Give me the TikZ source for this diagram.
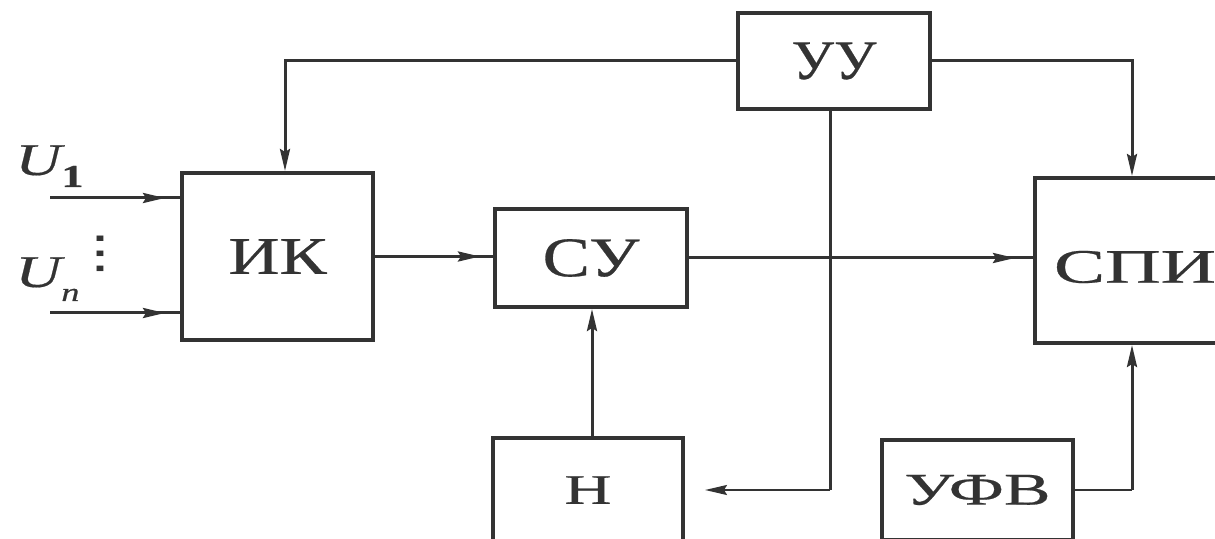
\documentclass[tikz,border=0pt]{standalone}
\usepackage{fontspec}
\setmainfont{Liberation Serif}
\newfontfamily\lblfont[FakeBold=0.4]{Liberation Serif}
\newfontfamily\dotfont{DejaVu Sans}
\usetikzlibrary{arrows.meta}
\definecolor{ink}{HTML}{333333}
\newcommand{\lab}[3]{\scalebox{#2}[1]{\lblfont\fontsize{#1}{#1}\selectfont #3}}
\begin{document}
\begin{tikzpicture}[x=0.5pt,y=-0.5pt,
  blk/.style={draw=ink,line width=2pt,inner sep=0pt,text=ink},
  conn/.style={draw=ink,line width=1.5pt},
  thinconn/.style={draw=ink,line width=1pt},
  arr/.style={-{Stealth[length=11pt,width=5pt,inset=1.5pt]}},
  txt/.style={text=ink,inner sep=0pt}]
\useasboundingbox (0,0) rectangle (1215,539);
\clip (0,0) rectangle (1215,539);
\fill[white] (0,0) rectangle (1215,539);

% blocks
\node[blk,minimum width=96pt,minimum height=48pt] (uu) at (834,61) {\lab{28}{1.07}{УУ}};
\node[blk,minimum width=95.5pt,minimum height=83.5pt] (ik) at (277.5,256.5) {\lab{26.4}{1.34}{ИК}};
\node[blk,minimum width=96pt,minimum height=49pt] (su) at (591,258) {\lab{28}{1.27}{СУ}};
\node[blk,minimum width=117.5pt,minimum height=82.5pt] (spi) at (1152.5,260.5) {};
\node[txt] (spit) at (1135,267) {\lab{24}{1.6}{СПИ}};
\node[blk,minimum width=95pt,minimum height=52pt] (n) at (588,490) {\lab{21}{1.55}{Н}};
\node[blk,minimum width=95.5pt,minimum height=50pt] (ufv) at (977.5,490) {\lab{22.7}{1.54}{УФВ}};

% input labels
\node[txt,anchor=base west] (u1l) at (15,175) {\scalebox{1.4}[1]{\lblfont\fontsize{22.7}{22.7}\selectfont\itshape U\raisebox{-6pt}{\fontsize{16}{16}\selectfont\upshape\bfseries 1}}};
\node[txt,anchor=base west] (unl) at (15,287) {\scalebox{1.4}[1]{\lblfont\fontsize{22.7}{22.7}\selectfont\itshape U\raisebox{-7pt}{\fontsize{13}{13}\selectfont n}}};
\node[txt] (dots) at (100,254) {\scalebox{1.5}[1]{\dotfont\fontsize{22}{22}\selectfont ⋮}};

% inputs
\coordinate (u1s) at (50,198);
\coordinate (uns) at (50,313);
\draw[conn] (u1s) -- (u1s -| ik.west);
\draw[conn,arr,shorten >=7.5pt] (u1s) -- (u1s -| ik.west);
\draw[conn] (uns) -- (uns -| ik.west);
\draw[conn,arr,shorten >=7.5pt] (uns) -- (uns -| ik.west);

% ИК -> СУ
\draw[conn] (ik.east) -- (ik.east -| su.west);
\draw[conn,arr,shorten >=6.5pt] (ik.east) -- (ik.east -| su.west);

% СУ -> СПИ
\draw[conn] (su.east) -- (su.east -| spi.west);
\draw[conn,arr,shorten >=9pt] (su.east) -- (su.east -| spi.west);

% УУ -> ИК
\coordinate (ikin) at (285,0);
\draw[conn,arr] (uu.west) -- (uu.west -| ikin) -- (ikin |- ik.north);

% УУ -> СПИ
\coordinate (spiin) at (1132,0);
\draw[conn,arr] (uu.east) -- (uu.east -| spiin) -- (spiin |- spi.north);

% УУ -> Н
\coordinate (vx) at (830,490);
\draw[conn] (vx |- uu.south) -- (vx);
\draw[thinconn,arr,shorten >=10pt] (vx) -- (vx -| n.east);

% Н -> СУ
\coordinate (nx) at (592,0);
\draw[conn,arr] (nx |- n.north) -- (nx |- su.south);

% УФВ -> СПИ
\draw[thinconn] (ufv.east) -- (ufv.east -| spiin);
\draw[conn,arr] (ufv.east -| spiin) -- (spiin |- spi.south);
\end{tikzpicture}
\end{document}
